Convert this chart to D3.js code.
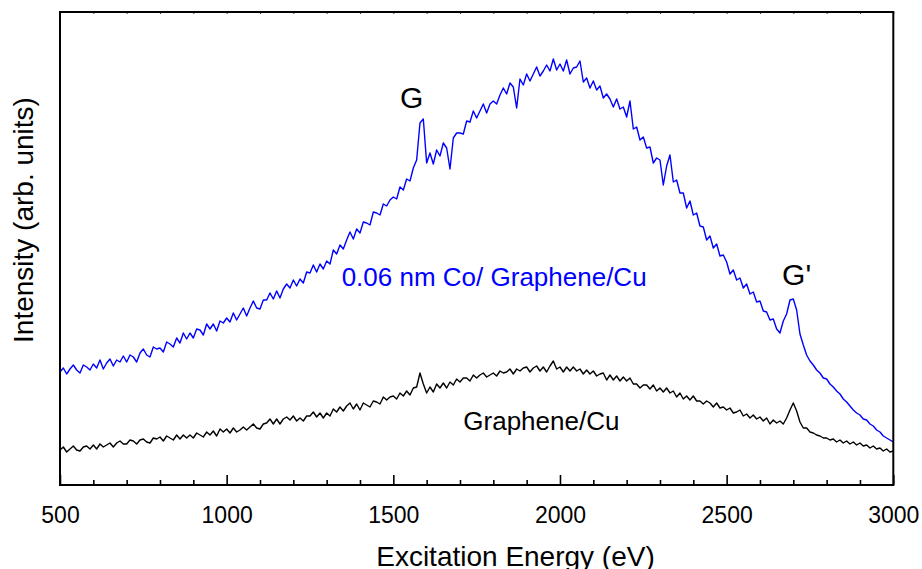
<!DOCTYPE html>
<html>
<head>
<meta charset="utf-8">
<script src="https://cdn.jsdelivr.net/npm/d3@7"></script>
<style>
  html, body { margin: 0; padding: 0; background: #fff; }
  svg { display: block; font-family: "Liberation Sans", Arial, sans-serif; }
</style>
</head>
<body>
<svg id="chart" width="922" height="569"></svg>
<script>
// Excitation energy grid (eV), sampled every 10 eV
const energyStart = 500, energyEnd = 3000, energyStep = 10;
const energies = d3.range(energyStart, energyEnd + 1, energyStep);

// 0.06 nm Co / Graphene / Cu spectrum (arb. units), one value per energy
const coGrapheneCu = [
  113, 117, 111, 116, 120, 115, 112, 120, 118, 115,
  121, 117, 125, 116, 122, 126, 119, 125, 123, 129,
  123, 130, 128, 123, 132, 136, 130, 128, 138, 136,
  137, 133, 143, 141, 138, 147, 142, 152, 146, 152,
  147, 156, 155, 150, 161, 156, 161, 154, 164, 162,
  167, 163, 172, 165, 171, 177, 169, 177, 184, 177,
  176, 185, 185, 192, 186, 194, 187, 196, 201, 197,
  205, 199, 206, 202, 213, 212, 220, 213, 221, 216,
  224, 221, 235, 231, 240, 236, 245, 253, 246, 256,
  252, 263, 262, 260, 273, 272, 270, 281, 279, 285,
  288, 286, 298, 295, 306, 304, 317, 325, 362, 366,
  322, 332, 321, 335, 329, 342, 337, 316, 347, 352,
  352, 351, 364, 363, 374, 367, 374, 381, 372, 381,
  384, 381, 390, 397, 391, 402, 398, 377, 406, 400,
  411, 404, 411, 418, 409, 414, 420, 414, 426, 415,
  421, 414, 425, 411, 417, 418, 424, 403, 407, 397,
  404, 395, 399, 387, 391, 386, 378, 386, 376, 378,
  368, 384, 356, 358, 345, 348, 337, 338, 322, 327,
  325, 300, 319, 330, 303, 305, 292, 292, 277, 284,
  270, 272, 259, 258, 245, 249, 237, 241, 229, 230,
  223, 211, 215, 205, 207, 197, 201, 191, 193, 183,
  184, 174, 173, 165, 166, 156, 152, 164, 171, 185,
  186, 175, 151, 140, 130, 124, 120, 115, 112, 107,
  106, 101, 98, 94, 91, 86, 83, 79, 75, 72,
  70, 66, 65, 61, 59, 55, 53, 49, 47, 45,
  43
];

// Graphene / Cu spectrum (arb. units)
const grapheneCu = [
  35, 38, 33, 36, 39, 35, 34, 38, 39, 36,
  40, 36, 41, 38, 40, 42, 38, 42, 44, 41,
  41, 45, 44, 41, 45, 46, 43, 42, 47, 46,
  48, 44, 49, 47, 45, 50, 46, 50, 47, 50,
  47, 52, 50, 48, 53, 50, 54, 49, 56, 53,
  56, 52, 57, 53, 55, 58, 55, 58, 61, 57,
  56, 61, 62, 66, 61, 66, 61, 66, 68, 65,
  69, 64, 67, 64, 69, 69, 73, 68, 72, 67,
  72, 69, 76, 73, 78, 74, 79, 82, 76, 81,
  75, 82, 80, 78, 84, 83, 81, 88, 85, 88,
  89, 86, 92, 89, 94, 90, 97, 98, 112, 101,
  92, 98, 93, 101, 97, 102, 97, 103, 100, 106,
  103, 107, 107, 104, 110, 107, 110, 112, 108, 110,
  112, 109, 114, 112, 113, 116, 111, 116, 114, 117,
  118, 113, 117, 119, 114, 118, 113, 119, 124, 116,
  118, 113, 118, 114, 118, 114, 116, 111, 115, 111,
  114, 109, 111, 112, 105, 110, 105, 109, 104, 108,
  104, 107, 101, 101, 97, 100, 100, 96, 100, 94,
  97, 93, 97, 92, 94, 88, 92, 86, 89, 85,
  89, 84, 84, 81, 84, 82, 78, 82, 77, 78,
  75, 77, 72, 73, 75, 69, 71, 67, 70, 66,
  68, 64, 67, 61, 65, 62, 64, 61, 67, 75,
  82, 74, 63, 57, 57, 53, 52, 50, 49, 47,
  47, 45, 46, 43, 45, 42, 44, 41, 43, 40,
  42, 39, 40, 37, 39, 36, 37, 34, 36, 33,
  34
];

const majorTicks = [500, 1000, 1500, 2000, 2500, 3000];
const minorTicks = d3.range(600, 3000, 100).filter(v => v % 500 !== 0);

// Peak annotations: [label, energy, intensity]
const peakLabels = [
  ["G", 1555, 377],
  ["G'", 2710, 200]
];
// Series captions: [text, energy, intensity, colour]
const seriesLabels = [
  ["0.06 nm Co/ Graphene/Cu", 1345, 199, "#0000ff"],
  ["Graphene/Cu", 1710, 55, "#000000"]
];

const svg = d3.select("#chart");
const margin = { left: 60, right: 28.7, top: 12, bottom: 84 };
const W = 922, H = 569;
const plotW = W - margin.left - margin.right;
const plotH = H - margin.top - margin.bottom;

const x = d3.scaleLinear().domain([500, 3000]).range([margin.left, margin.left + plotW]);
const y = d3.scaleLinear().domain([0, 473]).range([margin.top + plotH, margin.top]);

// Spectra
const line = d3.line()
  .x((d, i) => x(energies[i]))
  .y(d => y(d));

svg.append("path")
  .datum(grapheneCu)
  .attr("d", line)
  .attr("fill", "none")
  .attr("stroke", "#000")
  .attr("stroke-width", 1.4)
  .attr("stroke-linejoin", "round");

svg.append("path")
  .datum(coGrapheneCu)
  .attr("d", line)
  .attr("fill", "none")
  .attr("stroke", "#0000ff")
  .attr("stroke-width", 1.4)
  .attr("stroke-linejoin", "round");

// Bottom axis: major ticks with labels, minor ticks without
const bottomY = margin.top + plotH;
const axMajor = svg.append("g")
  .attr("transform", `translate(0,${bottomY})`)
  .call(d3.axisBottom(x).tickValues(majorTicks).tickSizeInner(-10).tickSizeOuter(0).tickPadding(22).tickFormat(d3.format("d")));
axMajor.select(".domain").remove();
axMajor.selectAll("line").attr("stroke", "#000").attr("stroke-width", 1.6);
axMajor.selectAll("text").attr("font-size", 23).attr("fill", "#000")
  .attr("font-family", "'Liberation Sans', Arial, sans-serif");

const axMinor = svg.append("g")
  .attr("transform", `translate(0,${bottomY})`)
  .call(d3.axisBottom(x).tickValues(minorTicks).tickSizeInner(-5).tickSizeOuter(0).tickFormat(""));
axMinor.select(".domain").remove();
axMinor.selectAll("line").attr("stroke", "#000").attr("stroke-width", 1.6);

// Top axis: short inward ticks every 100 eV
const axTop = svg.append("g")
  .attr("transform", `translate(0,${margin.top})`)
  .call(d3.axisTop(x).tickValues(d3.range(500, 3001, 100)).tickSizeInner(-2).tickSizeOuter(0).tickFormat(""));
axTop.select(".domain").remove();
axTop.selectAll("line").attr("stroke", "#444").attr("stroke-width", 1);

// Frame
svg.append("rect")
  .attr("x", margin.left)
  .attr("y", margin.top)
  .attr("width", plotW)
  .attr("height", plotH)
  .attr("fill", "none")
  .attr("stroke", "#000")
  .attr("stroke-width", 2);

// Axis titles
svg.append("text")
  .attr("x", (374 + 657) / 2)
  .attr("y", 566)
  .attr("text-anchor", "middle")
  .attr("font-size", 28)
  .attr("fill", "#000")
  .text("Excitation Energy (eV)");

svg.append("text")
  .attr("transform", `translate(33,220) rotate(-90)`)
  .attr("text-anchor", "middle")
  .attr("font-size", 28)
  .attr("fill", "#000")
  .text("Intensity (arb. units)");

// Peak labels
svg.selectAll(".peak")
  .data(peakLabels)
  .enter().append("text")
  .attr("class", "peak")
  .attr("x", d => x(d[1]))
  .attr("y", d => y(d[2]))
  .attr("text-anchor", "middle")
  .attr("font-size", 30)
  .attr("fill", "#000")
  .text(d => d[0]);

// Series captions
svg.selectAll(".caption")
  .data(seriesLabels)
  .enter().append("text")
  .attr("class", "caption")
  .attr("x", d => x(d[1]))
  .attr("y", d => y(d[2]))
  .attr("font-size", 26)
  .attr("fill", d => d[3])
  .text(d => d[0]);
</script>
</body>
</html>
